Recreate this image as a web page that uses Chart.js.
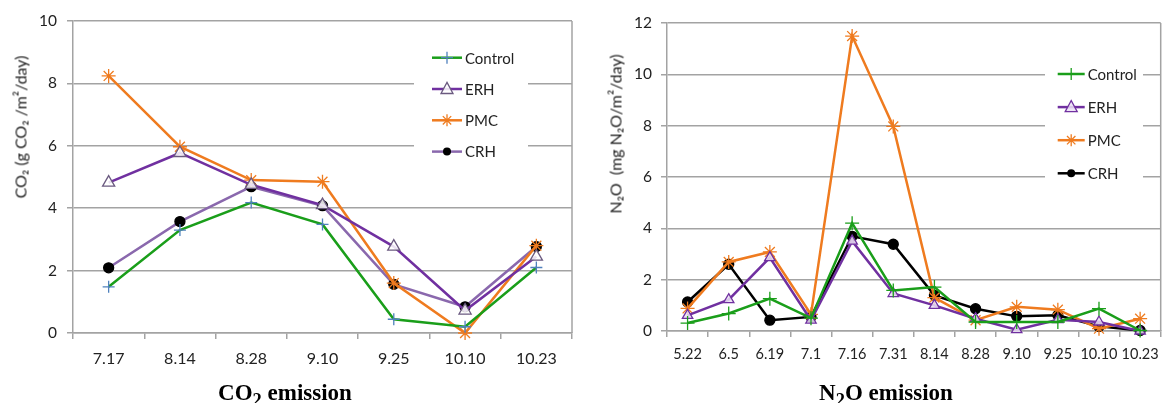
<!DOCTYPE html>
<html>
<head>
<meta charset="utf-8">
<script src="https://cdn.jsdelivr.net/npm/chart.js@4.4.1/dist/chart.umd.min.js"></script>
<style>
body { margin: 0; background: #fff; width: 1169px; height: 403px; overflow: hidden; position: relative; font-family: Lato, "DejaVu Sans", sans-serif; }
.wrap { position: absolute; top: 0; height: 403px; width: 585px; }
#leftWrap { left: 0; }
#rightWrap { left: 584px; }
.ytitle { position: absolute; white-space: nowrap; font-size: 16px; color: #222; transform: translate(-50%, -50%) rotate(-90deg); }
.cap { position: absolute; top: 381px; width: 300px; text-align: center; font: bold 23px "Liberation Serif", "Times New Roman", serif; line-height: 23px; color: #000; }
.cap sub { font-size: 0.8em; line-height: 0; }
</style>
</head>
<body>
<div class="wrap" id="leftWrap"><canvas id="co2Chart"></canvas></div>
<div class="wrap" id="rightWrap"><canvas id="n2oChart"></canvas></div>
<div class="ytitle" style="left:20px; top:127px;">CO₂ (g CO₂ /m²/day)</div>
<div class="ytitle" style="left:615px; top:134px;">N₂O&nbsp; (mg N₂O/m²/day)</div>
<div class="cap" style="left:135px;">CO<sub>2</sub> emission</div>
<div class="cap" style="left:736px;">N<sub>2</sub>O emission</div>
<script>
// CO2 emission (g CO2/m2/day)
const co2Dates = ['7.17', '8.14', '8.28', '9.10', '9.25', '10.10', '10.23'];
const co2Control = [1.48, 3.3, 4.18, 3.48, 0.44, 0.2, 2.1];
const co2ERH = [4.82, 5.77, 4.75, 4.1, 2.77, 0.72, 2.45];
const co2PMC = [8.24, 5.97, 4.9, 4.85, 1.6, 0, 2.8];
const co2CRH = [2.09, 3.57, 4.69, 4.08, 1.56, 0.84, 2.77];

// N2O emission (mg N2O/m2/day)
const n2oDates = ['5.22', '6.5', '6.19', '7.1', '7.16', '7.31', '8.14', '8.28', '9.10', '9.25', '10.10', '10.23'];
const n2oControl = [0.31, 0.68, 1.26, 0.5, 4.2, 1.58, 1.71, 0.35, 0.35, 0.35, 0.87, 0.02];
const n2oERH = [0.61, 1.22, 2.86, 0.42, 3.5, 1.46, 1.0, 0.48, 0.05, 0.44, 0.35, 0];
const n2oPMC = [0.88, 2.69, 3.08, 0.65, 11.49, 7.97, 1.3, 0.42, 0.94, 0.83, 0.09, 0.48];
const n2oCRH = [1.13, 2.6, 0.42, 0.55, 3.69, 3.38, 1.39, 0.87, 0.57, 0.61, 0.18, 0.02];

const seriesNames = ['Control', 'ERH', 'PMC', 'CRH'];

const GREEN = '#1a9e1a';
const PURPLE = '#7030a0';
const ORANGE = '#ef7b1f';
const GRID = '#a3a3a3';
const TEXT = '#222';

function drawMarker(c, style, x, y, r) {
    c.beginPath();
    if (style === 'circle') {
        c.arc(x, y, r, 0, Math.PI * 2);
        c.fill();
    } else if (style === 'triangle') {
        c.moveTo(x, y - r * 1.1);
        c.lineTo(x + r, y + r * 0.75);
        c.lineTo(x - r, y + r * 0.75);
        c.closePath();
        c.fill();
        c.stroke();
    } else {
        c.moveTo(x - r, y); c.lineTo(x + r, y);
        c.moveTo(x, y - r); c.lineTo(x, y + r);
        if (style === 'star') {
            const d = r * 0.7;
            c.moveTo(x - d, y - d); c.lineTo(x + d, y + d);
            c.moveTo(x - d, y + d); c.lineTo(x + d, y - d);
        }
        c.stroke();
    }
}

// legend drawn inside the plot, over a white box that breaks the grid lines
const insideLegend = {
    id: 'insideLegend',
    afterDraw(chart, args, o) {
        const c = chart.ctx;
        c.save();
        c.fillStyle = '#fff';
        c.fillRect(o.box[0], o.box[1], o.box[2] - o.box[0], o.box[3] - o.box[1]);
        c.font = o.font;
        c.textBaseline = 'middle';
        chart.data.datasets.forEach((ds, i) => {
            const y = o.y + i * o.gap;
            c.strokeStyle = ds.borderColor;
            c.lineWidth = 2.5;
            c.beginPath();
            c.moveTo(o.x, y);
            c.lineTo(o.x + o.len, y);
            c.stroke();
            c.strokeStyle = ds.pointBorderColor;
            c.fillStyle = ds.pointBackgroundColor;
            c.lineWidth = 1.3;
            drawMarker(c, ds.pointStyle, o.x + o.len / 2, y, ds.pointStyle === 'circle' ? 4 : 6);
            c.fillStyle = TEXT;
            c.fillText(ds.label, o.x + o.len + 3, y + 1);
        });
        c.restore();
    }
};

const rightEdge = {
    id: 'rightEdge',
    beforeDatasetsDraw(chart) {
        const a = chart.chartArea, c = chart.ctx;
        c.save();
        c.strokeStyle = GRID;
        c.lineWidth = 1.5;
        c.beginPath();
        c.moveTo(a.right, a.top);
        c.lineTo(a.right, a.bottom);
        c.stroke();
        c.restore();
    }
};

function makeDataset(label, data, line, marker, fill, style, radius) {
    return {
        label: label,
        data: data,
        borderColor: line,
        borderWidth: 2.5,
        pointStyle: style,
        pointRadius: radius,
        pointBorderColor: marker,
        pointBackgroundColor: fill,
        pointBorderWidth: 1.3,
        tension: 0,
        clip: 12
    };
}

function makeOptions(yMax, yWidth, xHeight, pad, xFont, tickPad, legend) {
    return {
        responsive: false,
        animation: false,
        layout: { padding: pad },
        plugins: {
            legend: { display: false },
            tooltip: { enabled: false },
            insideLegend: legend
        },
        scales: {
            x: {
                offset: true,
                grid: { offset: true, drawOnChartArea: false, color: GRID, lineWidth: 1.5, tickLength: 6 },
                border: { color: GRID, width: 1.5 },
                ticks: { color: TEXT, font: { family: 'Lato', size: xFont }, padding: tickPad, autoSkip: false, maxRotation: 0 },
                afterFit(s) { s.height = xHeight; }
            },
            y: {
                min: 0,
                max: yMax,
                grid: { color: GRID, lineWidth: 1.5, tickLength: 6 },
                border: { color: GRID, width: 1.5 },
                ticks: { stepSize: 2, color: TEXT, font: { family: 'Lato', size: 15.5 }, padding: tickPad },
                afterFit(s) { s.width = yWidth; }
            }
        }
    };
}

const leftCanvas = document.getElementById('co2Chart');
leftCanvas.width = 585; leftCanvas.height = 403;
new Chart(leftCanvas.getContext('2d'), {
    type: 'line',
    data: {
        labels: co2Dates,
        datasets: [
            makeDataset(seriesNames[0], co2Control, GREEN, '#4f81bd', '#4f81bd', 'cross', 6),
            makeDataset(seriesNames[1], co2ERH, PURPLE, '#6b5a80', 'rgba(255,255,255,0.85)', 'triangle', 7),
            makeDataset(seriesNames[2], co2PMC, ORANGE, ORANGE, ORANGE, 'star', 7),
            makeDataset(seriesNames[3], co2CRH, '#8a68ad', '#000', '#000', 'circle', 5)
        ]
    },
    options: makeOptions(10, 73, 70, { top: 21, right: 13, left: 0, bottom: 0 }, 16, 10, {
        x: 432, y: 57.7, gap: 31.3, len: 30,
        box: [414, 44, 528, 166],
        font: '15px Lato'
    }),
    plugins: [insideLegend, rightEdge]
});

const rightCanvas = document.getElementById('n2oChart');
rightCanvas.width = 585; rightCanvas.height = 403;
new Chart(rightCanvas.getContext('2d'), {
    type: 'line',
    data: {
        labels: n2oDates,
        datasets: [
            makeDataset(seriesNames[0], n2oControl, GREEN, GREEN, GREEN, 'cross', 7),
            makeDataset(seriesNames[1], n2oERH, PURPLE, PURPLE, 'rgba(235,225,245,0.85)', 'triangle', 6),
            makeDataset(seriesNames[2], n2oPMC, ORANGE, ORANGE, ORANGE, 'star', 7),
            makeDataset(seriesNames[3], n2oCRH, '#000', '#000', '#000', 'circle', 5)
        ]
    },
    options: makeOptions(12, 83, 72, { top: 23, right: 2, left: 0, bottom: 0 }, 14.5, 9, {
        x: 473.7, y: 74, gap: 33.1, len: 27,
        box: [461, 58, 559, 190],
        font: '15px Lato'
    }),
    plugins: [insideLegend, rightEdge]
});
</script>
</body>
</html>
